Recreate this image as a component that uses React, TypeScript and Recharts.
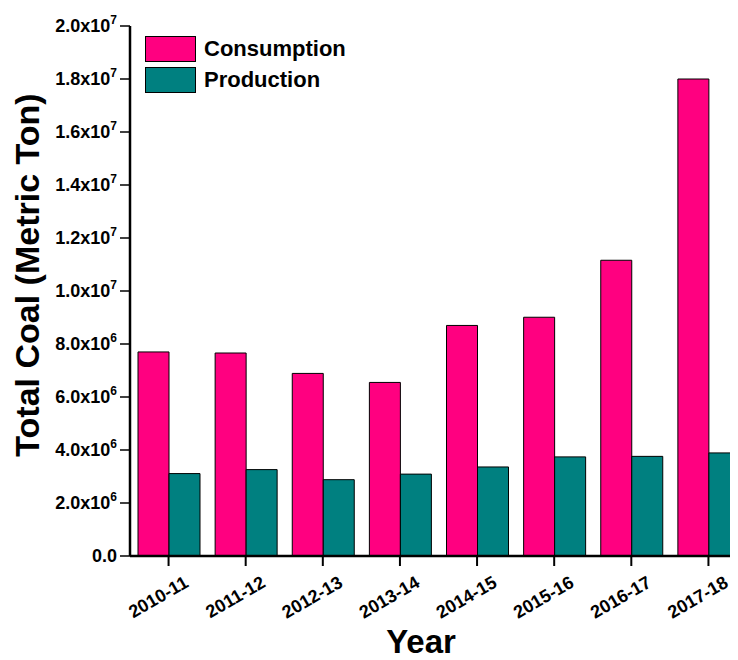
import { BarChart, Bar, XAxis, YAxis, Legend, Label } from "recharts";

const years = ["2010-11", "2011-12", "2012-13", "2013-14", "2014-15", "2015-16", "2016-17", "2017-18"];
const consumption = [7.7e6, 7.66e6, 6.89e6, 6.55e6, 8.7e6, 9.01e6, 11.16e6, 18.0e6];
const production = [3.11e6, 3.26e6, 2.88e6, 3.09e6, 3.36e6, 3.74e6, 3.76e6, 3.89e6];
const yTicks = [0, 2e6, 4e6, 6e6, 8e6, 1e7, 1.2e7, 1.4e7, 1.6e7, 1.8e7, 2e7];
const yMinorTicks = [1e6, 3e6, 5e6, 7e6, 9e6, 1.1e7, 1.3e7, 1.5e7, 1.7e7, 1.9e7];

const data = years.map((year, i) => ({
    year,
    consumption: consumption[i],
    production: production[i],
}));

const FONT = "'Liberation Sans', Arial, sans-serif";
const PINK = "#FF0080";
const TEAL = "#008080";

const YTick = ({ x, y, payload }: any) => {
    const v = payload.value;
    if (v === 0) {
        return (
            <text x={x} y={y} dy={6} textAnchor="end" fontFamily={FONT} fontWeight="bold" fontSize={18} fill="#000">
                0.0
            </text>
        );
    }
    const exp = Math.floor(Math.log10(v) + 1e-9);
    const mant = (v / Math.pow(10, exp)).toFixed(1);
    return (
        <text x={x} y={y} dy={6} textAnchor="end" fontFamily={FONT} fontWeight="bold" fontSize={18} fill="#000">
            <tspan>{mant}x10</tspan>
            <tspan dy={-8} fontSize={12}>{exp}</tspan>
        </text>
    );
};

const XTick = ({ x, y, payload }: any) => {
    const tx = x + 21;
    const ty = y + 18;
    return (
        <text
            x={tx}
            y={ty}
            textAnchor="end"
            transform={`rotate(-30, ${tx}, ${ty})`}
            fontFamily={FONT}
            fontWeight="bold"
            fontSize={18}
            fill="#000"
        >
            {payload.value}
        </text>
    );
};

const LegendBox = () => (
    <div style={{ fontFamily: FONT, fontWeight: "bold", fontSize: 22, color: "#000" }}>
        {[
            { name: "Consumption", color: PINK },
            { name: "Production", color: TEAL },
        ].map((item) => (
            <div key={item.name} style={{ display: "flex", alignItems: "center", height: 26, marginBottom: 5 }}>
                <div
                    style={{
                        width: 49,
                        height: 24,
                        background: item.color,
                        border: "1px solid #000",
                        marginRight: 8,
                    }}
                />
                <span>{item.name}</span>
            </div>
        ))}
    </div>
);

const App = () => {
    return (
        <div style={{ width: 730, overflow: "hidden" }}>
            <BarChart
                width={760}
                height={652}
                data={data}
                margin={{ top: 18, right: 21, left: 0, bottom: 0 }}
                barGap={0}
            >
                <XAxis
                    dataKey="year"
                    height={104}
                    interval={0}
                    tick={<XTick />}
                    tickSize={10}
                    axisLine={{ stroke: "#000", strokeWidth: 2.5 }}
                    tickLine={{ stroke: "#000", strokeWidth: 2 }}
                >
                    <Label
                        content={() => (
                            <text
                                x={413}
                                y={645}
                                textAnchor="middle"
                                fontFamily={FONT}
                                fontWeight="bold"
                                fontSize={33}
                                fill="#000"
                            >
                                Year
                            </text>
                        )}
                    />
                </XAxis>
                <XAxis
                    xAxisId="top"
                    dataKey="year"
                    orientation="top"
                    height={0}
                    tick={false}
                    mirror
                    tickSize={4}
                    axisLine={{ stroke: "#222", strokeWidth: 1.5 }}
                    tickLine={{ stroke: "#222", strokeWidth: 1 }}
                />
                <YAxis
                    width={122}
                    domain={[0, 2e7]}
                    ticks={yTicks}
                    interval={0}
                    tick={<YTick />}
                    tickSize={10}
                    tickMargin={3}
                    axisLine={{ stroke: "#000", strokeWidth: 2.5 }}
                    tickLine={{ stroke: "#000", strokeWidth: 1.5 }}
                >
                    <Label
                        content={() => (
                            <text
                                x={19}
                                y={267}
                                textAnchor="middle"
                                dominantBaseline="central"
                                transform="rotate(-90, 19, 267)"
                                fontFamily={FONT}
                                fontWeight="bold"
                                fontSize={34}
                                fill="#000"
                            >
                                Total Coal (Metric Ton)
                            </text>
                        )}
                    />
                </YAxis>
                <YAxis
                    yAxisId="minor"
                    width={0}
                    mirror
                    domain={[0, 2e7]}
                    ticks={yMinorTicks}
                    interval={0}
                    tick={false}
                    tickSize={4}
                    axisLine={false}
                    tickLine={{ stroke: "#000", strokeWidth: 1 }}
                />
                <Legend
                    layout="vertical"
                    verticalAlign="middle"
                    align="center"
                    content={<LegendBox />}
                    wrapperStyle={{ position: "absolute", top: 28, left: 137, width: "auto" }}
                />
                <Bar
                    dataKey="consumption"
                    name="Consumption"
                    fill={PINK}
                    stroke="#000"
                    strokeWidth={1}
                    barSize={31}
                    isAnimationActive={false}
                />
                <Bar
                    dataKey="production"
                    name="Production"
                    fill={TEAL}
                    stroke="#000"
                    strokeWidth={1}
                    barSize={31}
                    isAnimationActive={false}
                />
            </BarChart>
        </div>
    );
};

export default App;
